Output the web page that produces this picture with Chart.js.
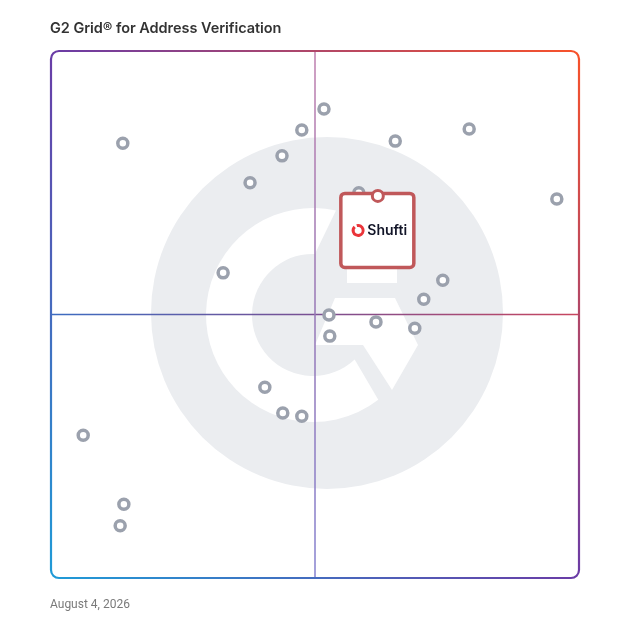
<!DOCTYPE html>
<html>
<head>
<meta charset="utf-8">
<script src="https://cdn.jsdelivr.net/npm/chart.js@4.4.1/dist/chart.umd.min.js"></script>
<style>
  html, body { margin: 0; padding: 0; background: #ffffff; }
  #wrap { position: relative; width: 628px; height: 628px; }
  #title { position: absolute; left: 50px; top: 19px; font-family: Inter, "Noto Sans", sans-serif; font-weight: 600; font-size: 14.5px; color: #333333; white-space: nowrap; letter-spacing: -0.05px; }
  #date { position: absolute; left: 50px; top: 597px; font-family: Roboto, "Noto Sans", sans-serif; font-size: 12px; color: #7a7a7a; white-space: nowrap; }
  #c { position: absolute; left: 0; top: 0; }
</style>
</head>
<body>
<div id="wrap">
  <canvas id="c" width="628" height="628"></canvas>
  <div id="title">G2 Grid® for Address Verification</div>
  <div id="date">August 4, 2026</div>
</div>
<script>
// ---- Data ----
const satisfaction   = [13.6, 51.7, 47.5, 43.75, 37.7, 65.2, 79.2, 95.8, 58.3, 32.6, 74.2, 70.6, 52.65, 61.55, 68.9, 52.8, 40.5, 43.9, 47.5, 6.1, 13.8, 13.1];
const marketPresence = [82.5, 89.0, 85.0, 80.1, 75.0, 82.9, 85.2, 71.9, 73.1, 57.9, 56.5, 52.9, 49.9, 48.6, 47.4, 45.9, 36.2, 31.3, 30.7, 27.1, 14.0, 9.9];
const highlightName = ["Shufti"];
const highlightSatisfaction = [61.9];
const highlightPresence = [72.5];
const axisMin = 0, axisMax = 100, axisMid = 50;

const others = satisfaction.map((x, i) => ({ x, y: marketPresence[i] }));
const highlight = highlightSatisfaction.map((x, i) => ({ x, y: highlightPresence[i] }));

// Background G2 logo (decoration), expressed in a 528x527 frame of the plot area
const logoPlugin = {
  id: 'logo',
  beforeDatasetsDraw(chart) {
    const { ctx, chartArea: a } = chart;
    const sx = (a.right - a.left) / 528, sy = (a.bottom - a.top) / 527;
    ctx.save();
    ctx.translate(a.left, a.top);
    ctx.scale(sx, sy);
    ctx.fillStyle = '#ebedf0';
    ctx.beginPath();
    ctx.arc(276, 262, 176, 0, Math.PI * 2);
    ctx.fill();
    const d = Math.PI / 180;
    const cx = 262, cy = 264;
    ctx.fillStyle = '#ffffff';
    ctx.beginPath();
    ctx.arc(cx, cy, 107, -77.6 * d, 52.4 * d, true);
    ctx.lineTo(cx + 61 * Math.cos(46.9 * d), cy + 61 * Math.sin(46.9 * d));
    ctx.arc(cx, cy, 61, 46.9 * d, -88.2 * d, false);
    ctx.closePath();
    ctx.fill();
    ctx.beginPath();
    ctx.moveTo(284, 247);
    ctx.lineTo(344, 247);
    ctx.lineTo(367, 294);
    ctx.lineTo(341, 339);
    ctx.lineTo(312, 294);
    ctx.lineTo(264, 294);
    ctx.closePath();
    ctx.fill();
    ctx.fillRect(296, 215, 50, 17);
    ctx.restore();

    const xs = chart.scales.x, ys = chart.scales.y;
    const mx = xs.getPixelForValue(axisMid), my = ys.getPixelForValue(axisMid);
    ctx.save();
    ctx.lineWidth = 1.5;
    let g = ctx.createLinearGradient(a.left, 0, a.right, 0);
    g.addColorStop(0, '#3c6cc1');
    g.addColorStop(0.5, '#7a4f92');
    g.addColorStop(1, '#c8465f');
    ctx.strokeStyle = g;
    ctx.beginPath(); ctx.moveTo(a.left, my); ctx.lineTo(a.right, my); ctx.stroke();
    g = ctx.createLinearGradient(0, a.top, 0, a.bottom);
    g.addColorStop(0, '#bf7fae');
    g.addColorStop(0.5, '#9677b6');
    g.addColorStop(1, '#8581cf');
    ctx.strokeStyle = g;
    ctx.beginPath(); ctx.moveTo(mx, a.top); ctx.lineTo(mx, a.bottom); ctx.stroke();
    ctx.restore();

    ctx.save();
    g = ctx.createLinearGradient(a.left, a.bottom, a.right, a.top);
    g.addColorStop(0, '#1f9bd7');
    g.addColorStop(0.5, '#6a3ca6');
    g.addColorStop(1, '#f8522a');
    ctx.strokeStyle = g;
    ctx.lineWidth = 2.2;
    ctx.beginPath();
    ctx.roundRect(a.left, a.top, a.right - a.left, a.bottom - a.top, 8);
    ctx.stroke();
    ctx.restore();
  },
  beforeDatasetDraw(chart, args) {
    if (args.index !== 1) return;
    const { ctx } = chart;
    const meta = chart.getDatasetMeta(1);
    meta.data.forEach((pt, i) => {
      const px = pt.x, py = pt.y;
      const bx = px - 37, by = py - 2.5, bw = 73, bh = 74;
      ctx.save();
      ctx.fillStyle = '#ffffff';
      ctx.strokeStyle = '#c0585a';
      ctx.lineWidth = 3.5;
      ctx.beginPath();
      ctx.roundRect(bx, by, bw, bh, 4);
      ctx.fill();
      ctx.stroke();
      ctx.strokeStyle = '#ea3439';
      ctx.lineWidth = 3;
      ctx.beginPath();
      ctx.arc(bx + 17.3, by + 37, 5, -1.85, 3.95);
      ctx.stroke();
      ctx.fillStyle = '#121528';
      ctx.font = '600 14px Inter, "Noto Sans", sans-serif';
      ctx.textBaseline = 'middle';
      ctx.textAlign = 'left';
      ctx.fillText(highlightName[i], bx + 26.5, by + 37.5);
      ctx.restore();
    });
  }
};

new Chart(document.getElementById('c'), {
  type: 'scatter',
  data: {
    datasets: [
      {
        label: 'Products',
        data: others,
        order: 2,
        pointRadius: 5,
        pointHoverRadius: 5,
        borderWidth: 3.5,
        borderColor: '#9ba1ad',
        backgroundColor: '#ffffff',
        clip: false
      },
      {
        label: highlightName[0],
        data: highlight,
        order: 1,
        pointRadius: 5.5,
        pointHoverRadius: 5.5,
        borderWidth: 3,
        borderColor: '#c0585a',
        backgroundColor: '#ffffff',
        clip: false
      }
    ]
  },
  options: {
    responsive: false,
    animation: false,
    layout: { padding: { left: 51, right: 49, top: 51, bottom: 50 } },
    plugins: { legend: { display: false }, tooltip: { enabled: false }, title: { display: false } },
    scales: {
      x: { type: 'linear', min: axisMin, max: axisMax, display: false },
      y: { type: 'linear', min: axisMin, max: axisMax, display: false }
    }
  },
  plugins: [logoPlugin]
});
</script>
</body>
</html>
